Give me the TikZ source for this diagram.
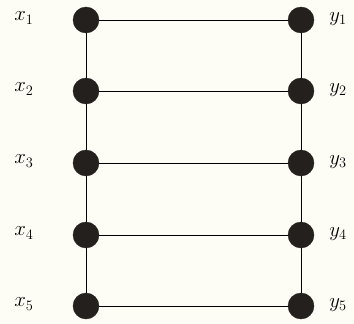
\documentclass[tikz,border=0pt]{standalone}
\definecolor{bg}{RGB}{253,253,246}
\definecolor{dot}{RGB}{35,32,30}
\begin{document}
\begin{tikzpicture}[x=1pt,y=-1pt,
  vtx/.style={circle,fill=dot,draw=dot,minimum size=26pt,inner sep=0pt},
  lab/.style={font=\fontsize{22}{24}\selectfont,inner sep=0pt},
  edge/.style={draw=black,line width=1pt}]
\fill[bg] (0,0) rectangle (354,324);
\useasboundingbox (0,0) rectangle (354,324);
\foreach \i/\y in {1/20,2/91,3/163,4/235,5/306}{
  \node[vtx] (x\i) at (86,\y) {};
  \node[vtx] (y\i) at (301,\y) {};
  \node[lab] (lx\i) at (24,\y-2) {$x_{\i}$};
  \node[lab] (ly\i) at (338,\y-1) {$y_{\i}$};
}
\foreach \i in {1,...,5}{\draw[edge] (x\i) -- (y\i);}
\foreach \a/\b in {1/2,2/3,3/4,4/5}{\draw[edge] (x\a) -- (x\b); \draw[edge] (y\a) -- (y\b);}
\end{tikzpicture}
\end{document}
